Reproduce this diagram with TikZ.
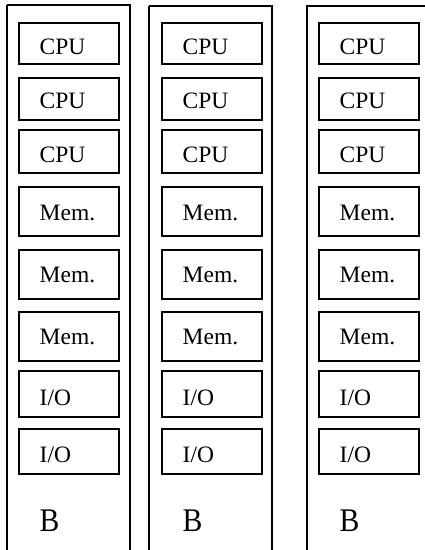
\documentclass[tikz,border=0pt]{standalone}
\usepackage{fontspec}
\setmainfont{Liberation Serif}
\begin{document}
\begin{tikzpicture}[x=1pt,y=-1pt,
  colline/.style={line width=1.8pt},
  thinline/.style={line width=1.1pt},
  unitbox/.style={draw,line width=1.5pt,rectangle,inner sep=0pt,minimum width=100pt,anchor=north west},
  lbl/.style={anchor=base west,inner sep=0pt,font=\fontsize{23.5}{23.5}\selectfont},
  blbl/.style={anchor=base west,inner sep=0pt,font=\fontsize{33}{33}\selectfont}
]
\useasboundingbox (0,0) rectangle (425,550);
% column outlines (open at bottom)
\coordinate (c1bl) at (7,552);
\coordinate (c1tl) at (7,5);
\coordinate (c1tr) at (130,5);
\coordinate (c1br) at (130,552);
\draw[thinline] (c1bl) -- (c1tl);
\draw[colline] (c1tl) -- (c1tr) -- (c1br);
\coordinate (c2bl) at (149,552);
\coordinate (c2tl) at (149,6);
\coordinate (c2tr) at (272,6);
\coordinate (c2br) at (272,552);
\draw[thinline] (c2bl) -- (c2tl);
\draw[colline] (c2tl) -- (c2tr) -- (c2br);
\coordinate (c3bl) at (307,552);
\coordinate (c3tl) at (307,6);
\coordinate (c3tr) at (430,6);
\draw[colline] (c3bl) -- (c3tl) -- (c3tr);
% boxes
\foreach \col/\bx in {1/18,2/161,3/318}{
  \foreach \i/\top/\bot/\base/\txt in {1/22/63/54/CPU,2/77/119/108/CPU,3/129/172/162/CPU,
      4/186/235/220/Mem.,5/249/298/282/Mem.,6/311/360/344/Mem.,
      7/370/416/405/I\slash O,8/428/473/462/I\slash O}{
    \pgfmathsetmacro{\h}{\bot-\top}
    \node[unitbox,minimum height=\h pt] (b\col-\i) at (\bx,\top) {};
    \node[lbl] (t\col-\i) at (\bx+21.5,\base) {\txt};
  }
  \node[blbl] (B\col) at (\bx+21.5,531) {\scalebox{0.9}[1]{B}};
}
\end{tikzpicture}
\end{document}
